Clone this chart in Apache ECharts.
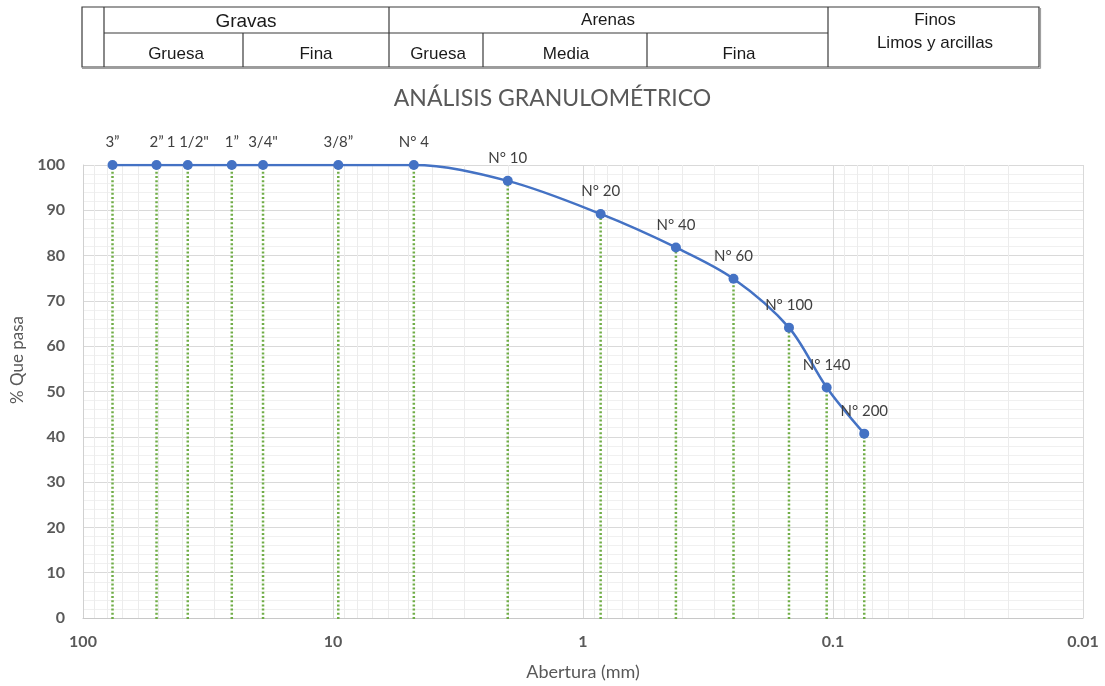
<!DOCTYPE html>
<html><head><meta charset="utf-8">
<script src="https://cdn.jsdelivr.net/npm/echarts@6/dist/echarts.min.js"></script>
<style>html,body{margin:0;padding:0;background:#fff}#c{width:1105px;height:686px}</style>
</head><body><div id="c"></div>
<script>
// ---- data ----
const sieveNames = ['3”', '2”', '1 1/2"', '1”', '3/4"', '3/8”', 'N° 4', 'N° 10', 'N° 20', 'N° 40', 'N° 60', 'N° 100', 'N° 140', 'N° 200'];
const openingsMm = [76.2, 50.8, 38.1, 25.4, 19.05, 9.525, 4.75, 2.0, 0.85, 0.425, 0.25, 0.15, 0.106, 0.075];
const percentPassing = [100, 100, 100, 100, 100, 100, 100, 96.5, 89.2, 81.8, 74.9, 64.1, 50.9, 40.7];
const xTickLabels = ['100', '10', '1', '0.1', '0.01'];
const yTickMin = 0, yTickMax = 100, yTickStep = 10;
const headerTop = ['Gravas', 'Arenas', 'Finos', 'Limos y arcillas'];
const headerSub = ['Gruesa', 'Fina', 'Gruesa', 'Media', 'Fina'];
const chartTitle = 'ANÁLISIS GRANULOMÉTRICO';
const xName = 'Abertura (mm)';
const yName = '% Que pasa';

// minor log grid positions (2..9 per decade)
const minorX = [];
[0.01, 0.1, 1, 10].forEach(d => { for (let k = 2; k <= 9; k++) minorX.push(+(d * k).toPrecision(3)); });

const points = openingsMm.map((x, i) => ({ value: [x, percentPassing[i]], name: sieveNames[i] }));

const FONT = 'Lato, "Open Sans", sans-serif';
const TFONT = '"Liberation Sans", Arial, sans-serif';

// ---- header table (graphic) ----
const L = 82, R = 1039, T = 7, B = 67, MID = 33;
function ln(x1, y1, x2, y2, c, w) {
  return { type: 'line', silent: true, shape: { x1, y1, x2, y2 }, style: { stroke: c || '#3a3a3a', lineWidth: w || 1.2 } };
}
function tx(text, x, y, size) {
  return { type: 'text', silent: true, style: { text, x, y, align: 'center', verticalAlign: 'middle', font: size + 'px ' + TFONT, fill: '#1a1a1a' } };
}
const tableGraphics = [
  { type: 'rect', silent: true, shape: { x: L, y: T, width: R - L, height: B - T }, style: { fill: 'none', stroke: '#3a3a3a', lineWidth: 1.2 } },
  ln(R + 1.5, T + 1, R + 1.5, B + 1.5, '#a0a0a0', 1.2),
  ln(L, B + 1.5, R + 1.5, B + 1.5, '#a0a0a0', 1.2),
  ln(104, T, 104, B),
  ln(104, MID, 828, MID),
  ln(389, T, 389, B),
  ln(828, T, 828, B),
  ln(243, MID, 243, B),
  ln(483, MID, 483, B),
  ln(647, MID, 647, B),
  tx(headerTop[0], 246, 22, 19),
  tx(headerTop[1], 608, 20, 17),
  tx(headerTop[2], 935, 20, 17),
  tx(headerTop[3], 935, 43, 17),
  tx(headerSub[0], 176, 54, 17),
  tx(headerSub[1], 316, 54, 17),
  tx(headerSub[2], 438, 54, 17),
  tx(headerSub[3], 566, 54, 17),
  tx(headerSub[4], 739, 54, 17),
  { type: 'text', silent: true, x: 18, y: 360, rotation: Math.PI / 2,
    style: { text: yName, x: 0, y: 0, align: 'center', verticalAlign: 'middle', font: '17px ' + FONT, fill: '#595959' } }
];

const chart = echarts.init(document.getElementById('c'), null, { renderer: 'canvas' });
chart.setOption({
  backgroundColor: '#fff',
  animation: false,
  title: {
    text: chartTitle, left: 'center', top: 82,
    textStyle: { fontFamily: FONT, fontSize: 23, fontWeight: 'normal', color: '#595959' }
  },
  graphic: tableGraphics,
  grid: { left: 83, right: 22, top: 165, bottom: 68, containLabel: false, outerBoundsMode: 'none' },
  xAxis: {
    type: 'log', logBase: 10, min: 0.01, max: 100, inverse: true,
    name: xName, nameLocation: 'middle', nameGap: 45,
    nameTextStyle: { fontFamily: FONT, fontSize: 18, color: '#595959' },
    axisLine: { show: true, lineStyle: { color: '#c8c8c8', width: 1 } },
    axisTick: { show: false },
    axisLabel: {
      margin: 16, fontFamily: FONT, fontSize: 16, fontWeight: 'bold', color: '#595959',
      formatter: v => xTickLabels[Math.round(2 - Math.log10(v))]
    },
    splitLine: { show: true, lineStyle: { color: '#d9d9d9', width: 1 } }
  },
  yAxis: {
    type: 'value', min: yTickMin, max: yTickMax, interval: yTickStep,
    axisLine: { show: true, lineStyle: { color: '#d0d0d0', width: 1 } },
    axisTick: { show: false },
    axisLabel: { margin: 18, fontFamily: FONT, fontSize: 16, fontWeight: 'bold', color: '#595959' },
    splitLine: { show: true, lineStyle: { color: '#d9d9d9', width: 1 } },
    minorTick: { show: false, splitNumber: 5 },
    minorSplitLine: { show: true, lineStyle: { color: '#f0f0f0', width: 1 } }
  },
  series: [
    {
      type: 'custom', name: 'minorGrid', silent: true, z: 1,
      data: minorX.map(v => [v, 0]),
      renderItem: (params, api) => {
        const p0 = api.coord([api.value(0), yTickMin]);
        const p1 = api.coord([api.value(0), yTickMax]);
        return { type: 'line', shape: { x1: Math.round(p0[0]) + 0.5, y1: p0[1], x2: Math.round(p0[0]) + 0.5, y2: p1[1] }, style: { stroke: '#ececec', lineWidth: 1 } };
      }
    },
    {
      type: 'custom', name: 'drops', silent: true, z: 2,
      data: openingsMm.map((x, i) => [x, percentPassing[i]]),
      renderItem: (params, api) => {
        const p0 = api.coord([api.value(0), 0]);
        const p1 = api.coord([api.value(0), api.value(1)]);
        return { type: 'line', shape: { x1: p0[0], y1: p0[1] + 1, x2: p1[0], y2: p1[1] }, style: { stroke: '#70AD47', lineWidth: 2.5, lineDash: [2, 2.2] } };
      }
    },
    {
      type: 'line', name: 'curva', z: 3,
      data: points,
      smooth: 0.33,
      symbol: 'circle', symbolSize: 10,
      itemStyle: { color: '#4472C4' },
      lineStyle: { color: '#4472C4', width: 2.5 },
      label: {
        show: true, position: 'top', distance: 10,
        formatter: p => p.name,
        fontFamily: FONT, fontSize: 15, color: '#404040'
      }
    }
  ]
});
</script>
</body></html>
